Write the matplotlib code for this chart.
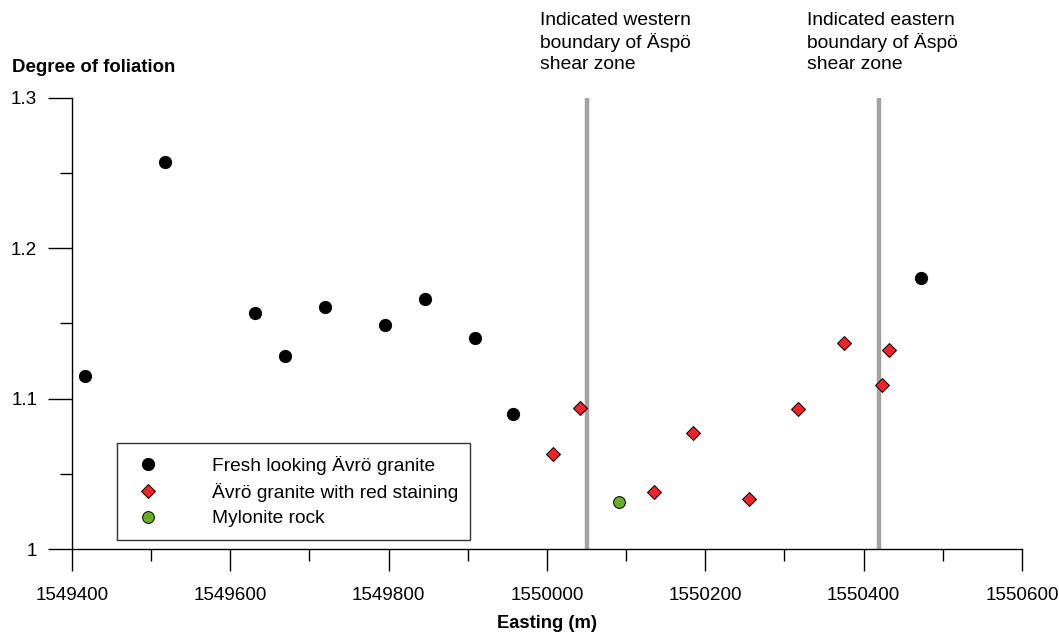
import matplotlib

matplotlib.use("Agg")

import matplotlib.pyplot as plt
from matplotlib.ticker import MultipleLocator
from matplotlib.transforms import blended_transform_factory

plt.rcParams["font.family"] = ["Liberation Sans", "DejaVu Sans"]

# Sample locations (easting, m) and degree of foliation
fresh_x = [1549416, 1549517, 1549631, 1549669, 1549720, 1549795, 1549846, 1549909, 1549957, 1550472]
fresh_y = [1.115, 1.257, 1.157, 1.128, 1.161, 1.149, 1.166, 1.140, 1.090, 1.180]

stained_x = [1550008, 1550042, 1550135, 1550184, 1550255, 1550317, 1550375, 1550423, 1550432]
stained_y = [1.063, 1.094, 1.038, 1.077, 1.033, 1.093, 1.137, 1.109, 1.132]

mylonite_x = [1550091]
mylonite_y = [1.031]

boundary_x = [1550050, 1550420]
boundary_label_x = [1549991, 1550329]
boundary_labels = [
    "Indicated western\nboundary of Äspö\nshear zone",
    "Indicated eastern\nboundary of Äspö\nshear zone",
]

fig = plt.figure(figsize=(10.59, 6.39), dpi=100)
ax = fig.add_axes([0.068, 0.1408, 0.897, 0.7062])

for bx in boundary_x:
    ax.plot([bx, bx], [1.0, 1.3], color="#a3a3a3", linewidth=3.2, zorder=1)

ax.plot(fresh_x, fresh_y, "o", color="black", markersize=8.5,
        label="Fresh looking Ävrö granite", zorder=3)
ax.plot(stained_x, stained_y, "D", color="#e8262b", markeredgecolor="black",
        markeredgewidth=0.7, markersize=7.5, label="Ävrö granite with red staining", zorder=3)
ax.plot(mylonite_x, mylonite_y, "o", color="#6aad2a", markeredgecolor="black",
        markeredgewidth=0.7, markersize=8.5, label="Mylonite rock", zorder=3)

ax.set_xlim(1549400, 1550600)
ax.set_ylim(1.0, 1.3)
ax.xaxis.set_minor_locator(MultipleLocator(100))
ax.yaxis.set_minor_locator(MultipleLocator(0.05))
ax.set_yticks([1.0, 1.1, 1.2, 1.3])
ax.set_yticklabels(["1", "1.1", "1.2", "1.3"])
xt = [1549400, 1549600, 1549800, 1550000, 1550200, 1550400, 1550600]
ax.set_xticks(xt)
ax.set_xticklabels([str(v) for v in xt])

for side in ("top", "right"):
    ax.spines[side].set_visible(False)
for side in ("left", "bottom"):
    ax.spines[side].set_linewidth(1.0)

ax.tick_params(axis="both", which="major", direction="out", length=17, width=1.0,
               labelsize=13.6)
ax.tick_params(axis="both", which="minor", direction="out", length=8.5, width=1.0)
ax.tick_params(axis="x", which="major", length=16, pad=11)
ax.tick_params(axis="y", which="major", pad=8)

ax.set_xlabel("Easting (m)", fontweight="bold", fontsize=13.2, labelpad=8)
fig.text(0.011, 0.895, "Degree of foliation", fontweight="bold", fontsize=13.4,
         ha="left", va="center")

trans = blended_transform_factory(ax.transData, fig.transFigure)
for lx, label in zip(boundary_label_x, boundary_labels):
    ax.text(lx, 1 - 12 / 639, label, transform=trans, ha="left", va="top",
            fontsize=13.9, linespacing=1.3)

leg = ax.legend(loc="lower left", bbox_to_anchor=(0.047, 0.02, 0.372, 0.2),
                mode="expand", borderaxespad=0, frameon=True, fancybox=False,
                fontsize=13.8, handletextpad=2.4, labelspacing=0.42,
                borderpad=0.66, handlelength=1.9)
leg.get_frame().set_edgecolor("black")
leg.get_frame().set_linewidth(1.0)

fig.savefig("out.png", dpi=100)
